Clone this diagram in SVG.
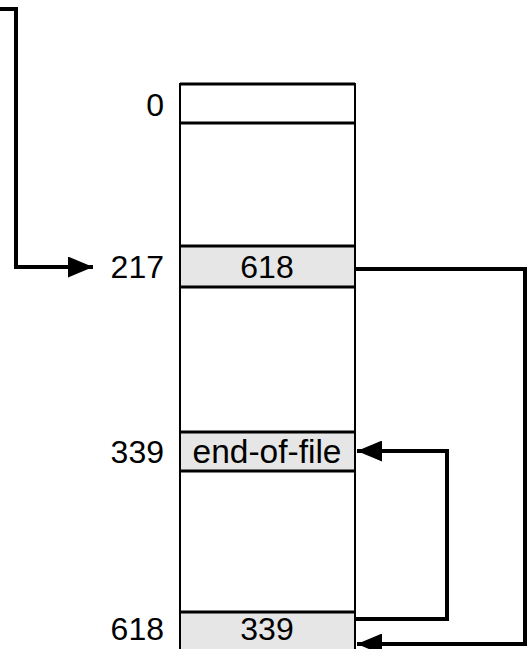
<svg xmlns="http://www.w3.org/2000/svg" width="529" height="649" viewBox="0 0 529 649">
  <style>
    .col { fill: #ffffff; stroke: #000000; stroke-width: 2; }
    .cell { fill: #e6e6e6; stroke: #000000; stroke-width: 2; }
    .sep { stroke: #000000; stroke-width: 3; fill: none; }
    .lbl { font-family: "Liberation Sans", Arial, sans-serif; font-size: 32px; fill: #000000; }
    .wire { fill: none; stroke: #000000; stroke-width: 4; }
  </style>
  <defs>
    <marker id="arrow" viewBox="0 0 25 21" refX="25" refY="10.5" markerWidth="25" markerHeight="21" markerUnits="userSpaceOnUse" orient="auto">
      <path d="M0,0 L25,10.5 L0,21 Z" fill="#000000"/>
    </marker>
  </defs>

  <!-- file block column -->
  <g id="column">
    <rect class="col" x="180" y="84" width="175" height="580"/>
  </g>

  <!-- block 0 -->
  <g id="block-0">
    <line class="sep" x1="180" y1="84" x2="355" y2="84"/>
    <line class="sep" x1="180" y1="123" x2="355" y2="123"/>
    <text class="lbl" x="164" y="116" text-anchor="end">0</text>
  </g>

  <!-- block 217 -->
  <g id="block-217">
    <rect class="cell" x="180" y="246" width="175" height="41"/>
    <line class="sep" x1="180" y1="246" x2="355" y2="246"/>
    <line class="sep" x1="180" y1="287" x2="355" y2="287"/>
    <text class="lbl" x="164" y="278" text-anchor="end">217</text>
    <text class="lbl" x="267" y="278" text-anchor="middle">618</text>
  </g>

  <!-- block 339 -->
  <g id="block-339">
    <rect class="cell" x="180" y="432" width="175" height="39"/>
    <line class="sep" x1="180" y1="432" x2="355" y2="432"/>
    <line class="sep" x1="180" y1="471" x2="355" y2="471"/>
    <text class="lbl" x="164" y="463" text-anchor="end">339</text>
    <text class="lbl" x="267" y="463" text-anchor="middle" style="font-size:33.5px">end-of-file</text>
  </g>

  <!-- block 618 -->
  <g id="block-618">
    <rect class="cell" x="180" y="612" width="175" height="52"/>
    <line class="sep" x1="180" y1="612" x2="355" y2="612"/>
    <text class="lbl" x="164" y="640" text-anchor="end">618</text>
    <text class="lbl" x="267" y="640" text-anchor="middle">339</text>
  </g>

  <!-- pointers -->
  <g id="connectors">
    <path class="wire" d="M0,9 H16 V267 H93" marker-end="url(#arrow)"/>
    <path class="wire" d="M355,269 H525 V644 H357" marker-end="url(#arrow)"/>
    <path class="wire" d="M355,619 H447 V451 H357" marker-end="url(#arrow)"/>
  </g>
</svg>
